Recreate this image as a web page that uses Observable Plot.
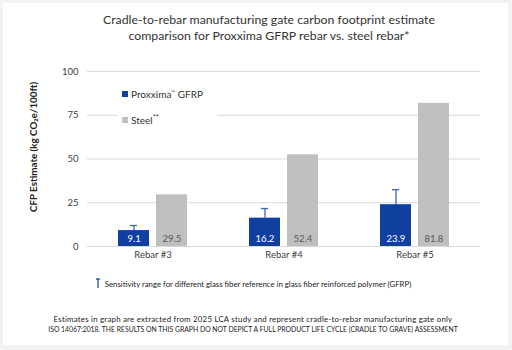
<!DOCTYPE html>
<html><head><meta charset="utf-8">
<script src="https://cdn.jsdelivr.net/npm/d3@7"></script>
<script src="https://cdn.jsdelivr.net/npm/@observablehq/plot@0.6"></script>
<style>
html,body{margin:0;padding:0;background:#f3f3f3;width:512px;height:350px;overflow:hidden;font-family:Lato,"Noto Sans",sans-serif;}
#panel{position:absolute;left:3px;top:3px;width:505px;height:342px;background:#fff;}
.t{position:absolute;white-space:nowrap;}
#title{left:0;width:538px;top:12px;text-align:center;font-size:12.3px;line-height:16px;color:#333;font-weight:400;}
#chart{position:absolute;left:0;top:55px;}
#legend{position:absolute;left:118px;top:81px;background:#fff;padding:2px 14px 2px 4px;font-size:10px;color:#333;}
#legend div{height:25px;line-height:18px;}
#legend .sw{display:inline-block;width:6px;height:6px;margin-right:3px;vertical-align:1px;}
#ylab{left:33px;top:147px;transform:translate(-50%,-50%) rotate(-90deg);font-weight:700;font-size:9.8px;color:#222;}
#sens{left:0;width:506px;top:278px;text-align:center;font-size:7.8px;color:#222;}
#foot{left:0;width:506px;top:314px;text-align:center;font-size:7px;line-height:10px;color:#222;}
</style></head>
<body>
<div id="panel"></div>
<div id="title" class="t"></div>
<div id="chart"></div>
<div id="legend" class="t"></div>
<div id="ylab" class="t"></div>
<div id="sens" class="t"></div>
<div id="foot" class="t"></div>
<script>
const titleLines = ["Cradle-to-rebar manufacturing gate carbon footprint estimate","comparison for Proxxima GFRP rebar vs. steel rebar*"];
const categories = ["Rebar #3","Rebar #4","Rebar #5"];
const seriesNames = ["GFRP","Steel"];
const legendLabels = ["Proxxima<sup style='font-size:5px'>™</sup> GFRP","Steel<sup style='font-size:7px'>**</sup>"];
const gfrpValues = [9.1,16.2,23.9];
const steelValues = [29.5,52.4,81.8];
const gfrpHigh = [12.0,21.7,32.5];
const yTicks = [0,25,50,75,100];
const yLabel = "CFP Estimate (kg CO₂e/100ft)";
const sensText = "Sensitivity range for different glass fiber reference in glass fiber reinforced polymer (GFRP)";
const footLines = ["Estimates in graph are extracted from 2025 LCA study and represent cradle-to-rebar manufacturing gate only","ISO 14067:2018. THE RESULTS ON THIS GRAPH DO NOT DEPICT A FULL PRODUCT LIFE CYCLE (CRADLE TO GRAVE) ASSESSMENT"];
const colors = ["#0f409f","#bfbfbf"];
const labelColors = ["#ffffff","#595959"];

const rows = [];
categories.forEach((c,i)=>{
  rows.push({cat:c, series:seriesNames[0], value:gfrpValues[i]});
  rows.push({cat:c, series:seriesNames[1], value:steelValues[i]});
});
const errs = categories.map((c,i)=>({cat:c, series:seriesNames[0], lo:gfrpValues[i], hi:gfrpHigh[i]}));

const chart = Plot.plot({
  width:512, height:210,
  marginLeft:86, marginRight:32, marginTop:16, marginBottom:19,
  style:{fontFamily:"Lato, 'Noto Sans', sans-serif", fontSize:"9.5px", color:"#404040", background:"transparent"},
  fx:{domain:categories, padding:0, label:null, tickSize:0, tickPadding:5, axis:"bottom"},
  x:{domain:seriesNames, axis:null, paddingInner:0.19, paddingOuter:0.79},
  y:{domain:[0,100], ticks:yTicks, label:null, tickSize:0, tickPadding:9},
  color:{domain:seriesNames, range:colors},
  marks:[
    Plot.gridY(yTicks,{stroke:"#d9d9d9", strokeOpacity:1, strokeWidth:1}),
    Plot.barY(rows,{fx:"cat", x:"series", y:"value", fill:"series"}),
    Plot.ruleX(errs,{fx:"cat", x:"series", y1:"lo", y2:"hi", stroke:"#3b63b8", strokeWidth:1.3}),
    Plot.tickY(errs,{fx:"cat", x:"series", y:"hi", stroke:"#3b63b8", strokeWidth:1.3, insetLeft:12, insetRight:12}),
    Plot.text(rows,{fx:"cat", x:"series", y:0, text:d=>d.value.toFixed(1), dy:-8, fill:d=>labelColors[seriesNames.indexOf(d.series)], fontSize:9.5})
  ]
});
document.getElementById("chart").appendChild(chart);
document.getElementById("title").innerHTML = titleLines.join("<br>");
document.getElementById("legend").innerHTML = seriesNames.map((s,i)=>`<div><span class="sw" style="background:${colors[i]}"></span>${legendLabels[i]}</div>`).join("");
document.getElementById("ylab").textContent = yLabel;
document.getElementById("sens").innerHTML = `<svg width="6" height="10" style="vertical-align:-1px;margin-right:4px"><line x1="3" y1="1" x2="3" y2="10" stroke="#0f409f" stroke-width="1.2"/><line x1="1" y1="1" x2="5" y2="1" stroke="#0f409f" stroke-width="1.2"/></svg>` + sensText;
document.getElementById("foot").innerHTML = `<span style="font-size:7.85px;letter-spacing:0.23px">${footLines[0]}</span><br><span style="font-size:6.85px">${footLines[1]}</span>`;
</script>
</body></html>
